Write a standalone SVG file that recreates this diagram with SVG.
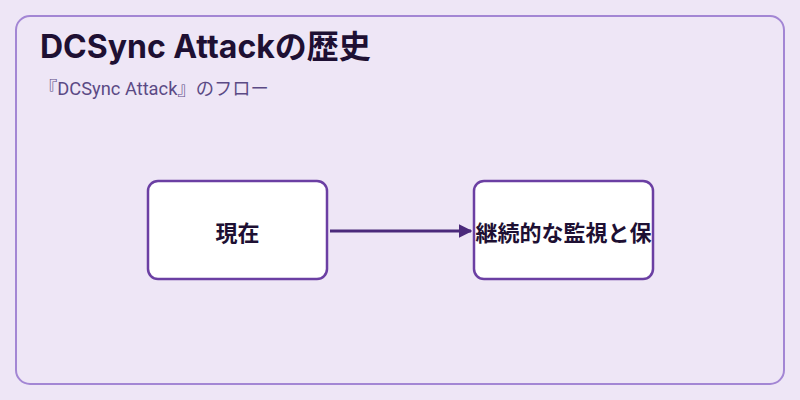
<svg xmlns="http://www.w3.org/2000/svg" width="800" height="400" viewBox="0 0 800 400">
<defs>
<style>
.node rect{fill:#ffffff;stroke:#6b3fa3;stroke-width:2.5}
.node text{font-family:"Noto Sans CJK JP","Noto Sans",sans-serif;font-weight:bold;font-size:22px;fill:#1e1033;text-anchor:middle;dominant-baseline:central}
.edge{stroke:#4b2a7b;stroke-width:3;fill:none}
</style>
<marker id="arr" viewBox="0 0 10 10" refX="9" refY="5" markerWidth="4.5" markerHeight="5.5" orient="auto" markerUnits="strokeWidth">
<path d="M0,0 L10,5 L0,10 z" fill="#4b2a7b"/>
</marker>
<clipPath id="c2"><rect x="474" y="181" width="179" height="98" rx="10"/></clipPath>
</defs>
<rect width="800" height="400" fill="#eee6f6"/>
<rect x="16" y="16" width="768" height="368" rx="14" fill="#eee6f6" stroke="#a386d4" stroke-width="2"/>
<text x="40" y="58" font-family="Inter,'Noto Sans CJK JP',sans-serif" font-weight="bold" font-size="32" fill="#1e1033">DCSync Attackの歴史</text>
<text x="39" y="95" font-family="Roboto,'Noto Sans CJK JP',sans-serif" font-size="18.3" fill="#5b4a85">『DCSync Attack』のフロー</text>
<g id="edges">
<line class="edge" x1="330" y1="231" x2="471" y2="231" marker-end="url(#arr)"/>
</g>
<g id="n1" class="node">
<rect x="148" y="181" width="179" height="98" rx="10"/>
<text x="237.5" y="231">現在</text>
</g>
<g id="n2" class="node">
<rect x="474" y="181" width="179" height="98" rx="10"/>
<text x="563.5" y="231" clip-path="url(#c2)">継続的な監視と保</text>
</g>
</svg>
